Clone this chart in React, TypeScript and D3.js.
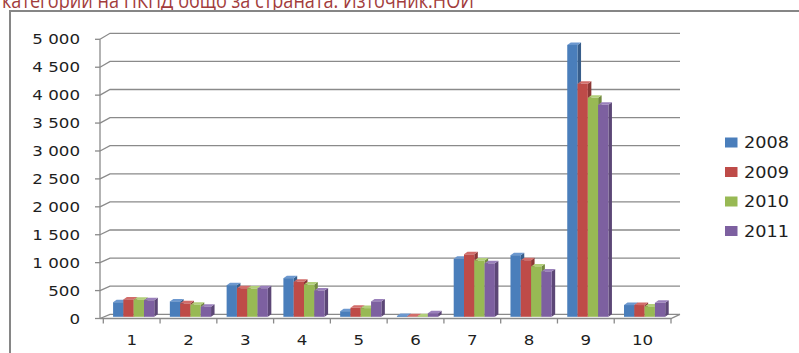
import React from "react";
import * as d3 from "d3";

const title = "категории на ПКПД общо за страната. Източник:НОИ";
const categories = ["1", "2", "3", "4", "5", "6", "7", "8", "9", "10"];
const seriesNames = ["2008", "2009", "2010", "2011"];
const values2008 = [260, 275, 565, 690, 100, 15, 1035, 1100, 4855, 210];
const values2009 = [310, 240, 510, 625, 160, 10, 1115, 1010, 4160, 210];
const values2010 = [305, 215, 505, 575, 155, 12, 1005, 900, 3910, 185];
const values2011 = [295, 180, 510, 470, 275, 65, 955, 810, 3785, 250];
const yTicks = [0, 500, 1000, 1500, 2000, 2500, 3000, 3500, 4000, 4500, 5000];

const seriesValues = [values2008, values2009, values2010, values2011];
const frontColors = ["#4A7EBB", "#BE4B48", "#98B954", "#7D60A0"];
const sideColors = ["#385E8B", "#8C3836", "#71893F", "#5C4776"];
const topColors = ["#6C98CF", "#D26D6A", "#B2CF7A", "#9A80BB"];

const W = 799;
const H = 353;
const FONT = "'DejaVu Sans', Verdana, sans-serif";
const SX = 1.19;

export default function App() {
  const yFront = d3.scaleLinear().domain([0, 5000]).range([318.5, 39.3]);
  const yBack = d3.scaleLinear().domain([0, 5000]).range([314.3, 33.3]);
  const yBar = d3.scaleLinear().domain([0, 5000]).range([316.8, 36.8]);
  const x = d3.scaleBand<string>().domain(categories).range([103.3, 671]).padding(0);
  const groupW = 41.2;
  const sub = d3.scaleBand<string>().domain(seriesNames).range([0, groupW]).padding(0);
  const bw = sub.bandwidth();
  const ddx = 3.5;
  const ddy = -2.5;
  const backX0 = 110;
  const backX1 = 680;
  const frontX = 100;
  const fmt = (v: number) => d3.format(",")(v).replace(/,/g, " ");
  const legendY = d3.scalePoint<string>().domain(seriesNames).range([142.5, 231]);

  const gridColor = "#8A8A8A";

  return (
    <svg
      width={W}
      height={H}
      style={{ position: "absolute", left: 0, top: 0, background: "#fff" }}
    >
      <rect x={0} y={0} width={W} height={H} fill="#fff" />
      {/* title (cut off at top, as in the reference) */}
      <text
        x={2}
        y={8}
        fill="#A23C3C"
        fontFamily="'Open Sans', 'Noto Sans', sans-serif"
        fontSize={21}
        textLength={472}
        lengthAdjust="spacingAndGlyphs"
      >
        {title}
      </text>
      {/* chart border */}
      <rect x={10} y={11} width={900} height={500} fill="#fff" stroke="#868686" strokeWidth={2} />

      {/* gridlines: side wall diagonal + back wall horizontal */}
      {yTicks.map((t) => (
        <path
          key={"g" + t}
          d={`M${frontX},${yFront(t)}L${backX0},${yBack(t)}L${backX1},${yBack(t)}`}
          fill="none"
          stroke={gridColor}
          strokeWidth={1.3}
        />
      ))}
      {/* floor front edge and right edge */}
      <path
        d={`M${frontX},${yFront(0)}L671,${yFront(0)}L${backX1},${yBack(0)}`}
        fill="none"
        stroke={gridColor}
        strokeWidth={1.3}
      />
      {/* vertical axis */}
      <line x1={frontX} x2={frontX} y1={yFront(5000)} y2={yFront(0)} stroke={gridColor} strokeWidth={1.3} />
      {yTicks.map((t) => (
        <line key={"t" + t} x1={95} x2={frontX} y1={yFront(t)} y2={yFront(t)} stroke={gridColor} strokeWidth={1.3} />
      ))}
      {yTicks.map((t) => (
        <text
          key={"l" + t}
          transform={`translate(80,${yFront(t) + 5}) scale(${SX},1)`}
          textAnchor="end"
          fontFamily={FONT}
          fontSize={14}
          fill="#1E1E1E"
        >
          {fmt(t)}
        </text>
      ))}
      {/* category ticks */}
      {[...categories.map((c) => x(c) as number), 671].map((px, i) => (
        <line key={"ct" + i} x1={px} x2={px} y1={yFront(0)} y2={yFront(0) + 5} stroke={gridColor} strokeWidth={1.3} />
      ))}
      {categories.map((c) => (
        <text
          key={"cl" + c}
          transform={`translate(${(x(c) as number) + x.bandwidth() / 2},345) scale(${SX},1)`}
          textAnchor="middle"
          fontFamily={FONT}
          fontSize={14}
          fill="#1E1E1E"
        >
          {c}
        </text>
      ))}

      {/* bars */}
      {categories.map((c, ci) => {
        const gx = (x(c) as number) + (x.bandwidth() - groupW) / 2 + 2;
        return (
          <g key={"bar" + c}>
            {seriesNames.map((s, si) => {
              const v = seriesValues[si][ci];
              const bx = gx + (sub(s) as number);
              const top = yBar(v);
              const base = yBar(0);
              return (
                <g key={s}>
                  <path
                    d={`M${bx + bw},${top}L${bx + bw + ddx},${top + ddy}L${bx + bw + ddx},${base + ddy}L${bx + bw},${base}Z`}
                    fill={sideColors[si]}
                  />
                  <path
                    d={`M${bx},${top}L${bx + ddx},${top + ddy}L${bx + bw + ddx},${top + ddy}L${bx + bw},${top}Z`}
                    fill={topColors[si]}
                  />
                  <rect x={bx} y={top} width={bw} height={base - top} fill={frontColors[si]} />
                </g>
              );
            })}
          </g>
        );
      })}

      {/* legend */}
      {seriesNames.map((s, si) => {
        const ly = legendY(s) as number;
        return (
          <g key={"lg" + s}>
            <rect x={725} y={ly - 5} width={12.5} height={10} fill={frontColors[si]} />
            <text
              transform={`translate(744,${ly + 5.5}) scale(1.18,1)`}
              fontFamily={FONT}
              fontSize={15}
              fill="#1E1E1E"
            >
              {s}
            </text>
          </g>
        );
      })}
    </svg>
  );
}
